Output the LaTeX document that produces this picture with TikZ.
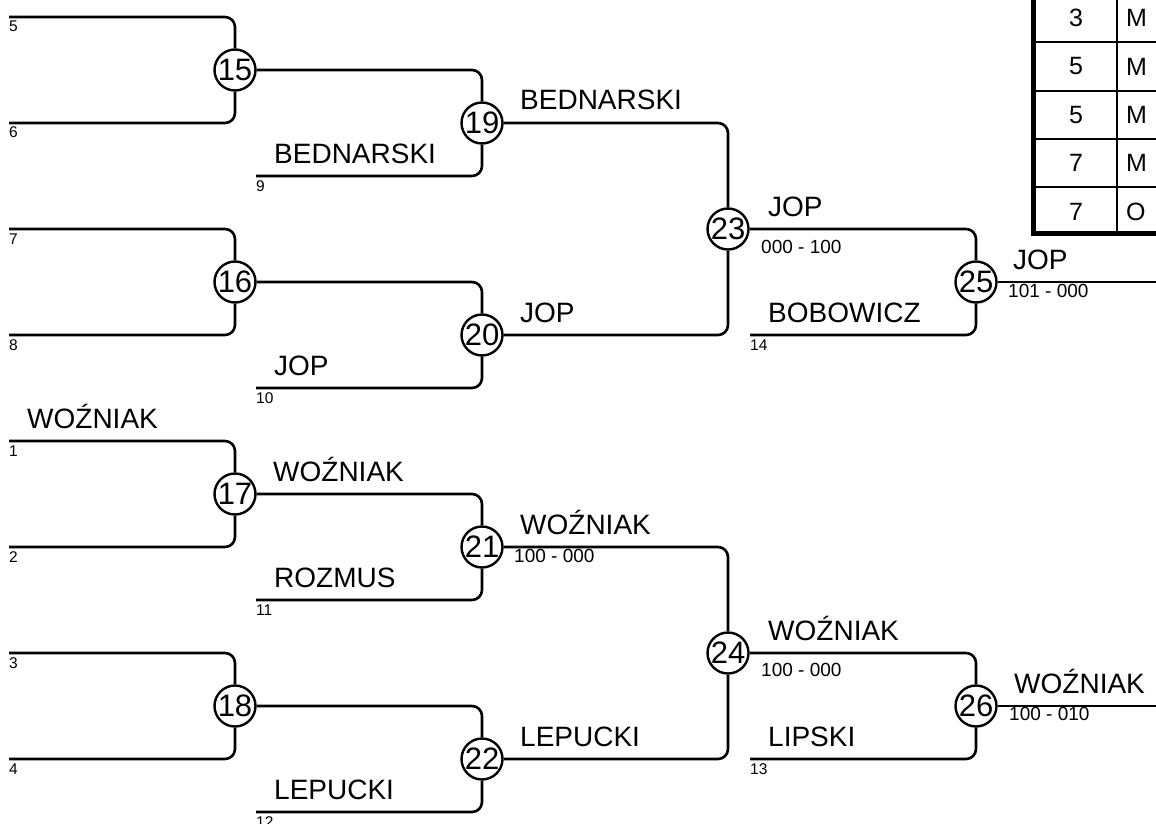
\documentclass[tikz,border=0pt]{standalone}
\usepackage{fontspec}
\setmainfont{Liberation Sans}
\begin{document}
\begin{tikzpicture}[x=1pt,y=-1pt,
  conn/.style={line width=2.6pt,rounded corners=10pt},
  match/.style={circle,draw,line width=2.4pt,minimum size=41pt,inner sep=0pt,
    font=\fontsize{31}{33}\selectfont},
  pname/.style={anchor=base west,inner sep=0pt,font=\fontsize{28}{30}\selectfont},
  seed/.style={anchor=base west,inner sep=0pt,font=\fontsize{15.5}{17}\selectfont},
  score/.style={anchor=base west,inner sep=0pt,font=\fontsize{19}{21}\selectfont},
  cell/.style={inner sep=0pt,font=\fontsize{25}{27}\selectfont}]
\useasboundingbox (0,0) rectangle (1156,824);
\clip (0,0) rectangle (1156,824);
% leaf start points
\coordinate (l5) at (9,17);
\coordinate (l6) at (9,123);
\coordinate (l7) at (9,229);
\coordinate (l8) at (9,335);
\coordinate (l1) at (9,441);
\coordinate (l2) at (9,547);
\coordinate (l3) at (9,653);
\coordinate (l4) at (9,759);
\coordinate (l9) at (256,176);
\coordinate (l10) at (256,388);
\coordinate (l11) at (256,600);
\coordinate (l12) at (256,812);
\coordinate (l14) at (750,335);
\coordinate (l13) at (750,759);
\coordinate (e25) at (1170,282);
\coordinate (e26) at (1170,706);
% match circles
\node[match] (c15) at (235,70) {15};
\node[match] (c16) at (235,282) {16};
\node[match] (c17) at (235,494) {17};
\node[match] (c18) at (235,706) {18};
\node[match] (c19) at (482,123) {19};
\node[match] (c20) at (482,335) {20};
\node[match] (c21) at (482,547) {21};
\node[match] (c22) at (482,759) {22};
\node[match] (c23) at (728,229) {23};
\node[match] (c24) at (728,653) {24};
\node[match] (c25) at (976,282) {25};
\node[match] (c26) at (976,706) {26};
% connectors
\draw[conn] (l5) -| (c15);
\draw[conn] (l6) -| (c15);
\draw[conn] (l7) -| (c16);
\draw[conn] (l8) -| (c16);
\draw[conn] (l1) -| (c17);
\draw[conn] (l2) -| (c17);
\draw[conn] (l3) -| (c18);
\draw[conn] (l4) -| (c18);
\draw[conn] (c15) -| (c19);
\draw[conn] (l9) -| (c19);
\draw[conn] (c16) -| (c20);
\draw[conn] (l10) -| (c20);
\draw[conn] (c17) -| (c21);
\draw[conn] (l11) -| (c21);
\draw[conn] (c18) -| (c22);
\draw[conn] (l12) -| (c22);
\draw[conn] (c19) -| (c23);
\draw[conn] (c20) -| (c23);
\draw[conn] (c21) -| (c24);
\draw[conn] (c22) -| (c24);
\draw[conn] (c23) -| (c25);
\draw[conn] (l14) -| (c25);
\draw[conn] (c24) -| (c26);
\draw[conn] (l13) -| (c26);
\draw[conn] (c25) -- (e25);
\draw[conn] (c26) -- (e26);
% seed numbers
\node[seed] (s5) at (9,32) {5};
\node[seed] (s6) at (9,138) {6};
\node[seed] (s7) at (9,244) {7};
\node[seed] (s8) at (9,350) {8};
\node[seed] (s1) at (9,456) {1};
\node[seed] (s2) at (9,562) {2};
\node[seed] (s3) at (9,668) {3};
\node[seed] (s4) at (9,774) {4};
\node[seed] (s9) at (256,191) {9};
\node[seed] (s10) at (256,403) {10};
\node[seed] (s11) at (256,615) {11};
\node[seed] (s12) at (256,827) {12};
\node[seed] (s14) at (750,350) {14};
\node[seed] (s13) at (750,774) {13};
% names
\node[pname] (n1) at (27,428) {WOŹNIAK};
\node[pname] (n9) at (274,163) {BEDNARSKI};
\node[pname] (n10) at (274,375) {JOP};
\node[pname] (n11) at (274,587) {ROZMUS};
\node[pname] (n12) at (274,799) {LEPUCKI};
\node[pname] (n17) at (273,481) {WOŹNIAK};
\node[pname] (n19) at (520,110) {BEDNARSKI};
\node[pname] (n20) at (520,322) {JOP};
\node[pname] (n21) at (520,534) {WOŹNIAK};
\node[pname] (n22) at (520,746) {LEPUCKI};
\node[pname] (n23) at (768,216.5) {JOP};
\node[pname] (n14) at (768,322) {BOBOWICZ};
\node[pname] (n24) at (768,640.5) {WOŹNIAK};
\node[pname] (n13) at (768,746) {LIPSKI};
\node[pname] (n25) at (1013,269) {JOP};
\node[pname] (n26) at (1014,693) {WOŹNIAK};
% scores
\node[score] (p21) at (514,562) {100 - 000};
\node[score] (p23) at (761,253) {000 - 100};
\node[score] (p24) at (761,676) {100 - 000};
\node[score] (p25) at (1008,297) {101 - 000};
\node[score] (p26) at (1009,720) {100 - 010};
% table
\draw[line width=2pt] (1033,42.3) -- (1400,42.3)
  (1033,90.6) -- (1400,90.6)
  (1033,138.9) -- (1400,138.9)
  (1033,187.2) -- (1400,187.2)
  (1117,-20) -- (1117,233);
\draw[line width=5pt] (1033,-20) -- (1033,233) -- (1400,233);
\node[cell] (t1) at (1076,18.2) {3};
\node[cell] (t2) at (1076,66.5) {5};
\node[cell] (t3) at (1076,114.8) {5};
\node[cell] (t4) at (1076,163.1) {7};
\node[cell] (t5) at (1076,211.4) {7};
\node[cell,anchor=west] (u1) at (1126,18.2) {M};
\node[cell,anchor=west] (u2) at (1126,66.5) {M};
\node[cell,anchor=west] (u3) at (1126,114.8) {M};
\node[cell,anchor=west] (u4) at (1126,163.1) {M};
\node[cell,anchor=west] (u5) at (1126,211.4) {O};
\end{tikzpicture}
\end{document}
